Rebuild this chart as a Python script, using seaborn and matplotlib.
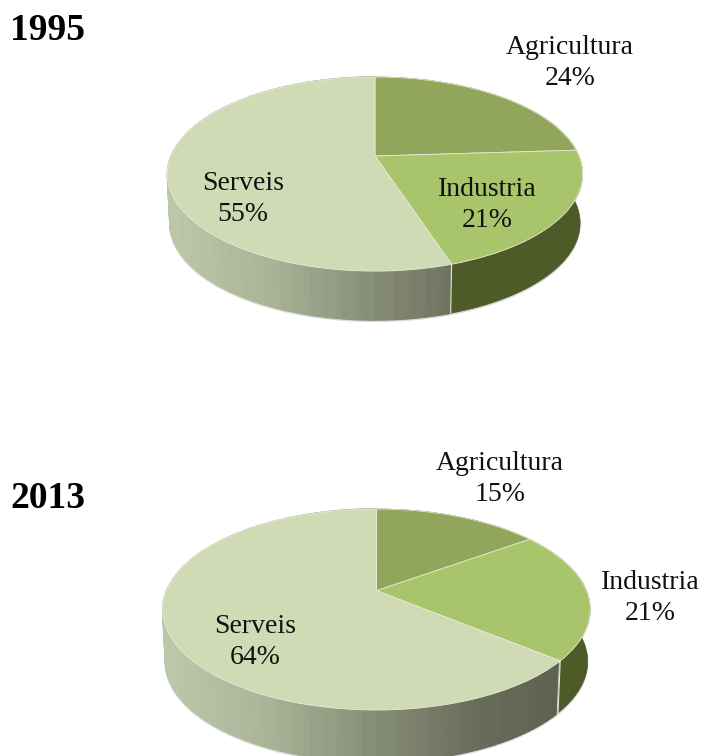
import numpy as np
import matplotlib
matplotlib.use('Agg')
import matplotlib.pyplot as plt
from matplotlib.transforms import Transform
import seaborn as sns

years = ['1995', '2013']
categories = ['Agricultura', 'Industria', 'Serveis']
shares_1995 = [24, 21, 55]
shares_2013 = [15, 21, 64]

top_colors = ['#91a55b', '#a9c56b', '#d0dab5']
dark_wall = '#4e5a28'
edge_color = '#e6eAd6'
wall_ramp = sns.blend_palette(['#bcc7aa', '#a8b296', '#868d75', '#686c5a', '#5c5f4d'], n_colors=40)


class Tilt(Transform):
    # lays the unit pie on its side, with some perspective, in pixel coords
    input_dims = 2
    output_dims = 2

    def __init__(self, cx, cy, a, b, k):
        super().__init__()
        self.cx, self.cy, self.a, self.b, self.k = cx, cy, a, b, k

    def transform_non_affine(self, values):
        values = np.asarray(values)
        w = 1 + self.k * values[:, 1]
        return np.column_stack([self.cx + self.a * values[:, 0] / w,
                                self.cy - self.b * values[:, 1] / w])


def unit_circle(theta):
    t = np.radians(theta)
    return np.column_stack([np.cos(t), np.sin(t)])


def draw_pie(ax, shares, cx, cy, a, b, k, depth):
    top = Tilt(cx, cy, a, b, k)
    low = Tilt(cx, cy + depth, a * 0.988, b, k)

    # soft edge under the disc
    shadow = Tilt(cx, cy + depth + 2, a * 0.99, b, k).transform(unit_circle(np.arange(0, 361, 2)))
    ax.fill(shadow[:, 0], shadow[:, 1], color='#dcdcdc', lw=0)

    # side wall: gradient strips for Serveis, one flat piece for the rest
    ends = 90 - np.cumsum(shares) * 3.6
    serveis_start = ends[1]
    grid = np.arange(-270, serveis_start + 0.01, 1.5)
    for t0, t1 in zip(grid[:-1], grid[1:]):
        p = top.transform(unit_circle(np.array([t0, t1])))
        q = low.transform(unit_circle(np.array([t1, t0])))
        xs = np.r_[p[:, 0], q[:, 0]]
        ys = np.r_[p[:, 1], q[:, 1]]
        frac = (xs.mean() - (cx - a)) / (2 * a)
        color = wall_ramp[int(np.clip(frac, 0, 0.999) * len(wall_ramp))]
        ax.fill(xs, ys, color=color, lw=1.0)

    arc = np.linspace(serveis_start, 90, 120)
    p = top.transform(unit_circle(arc))
    q = low.transform(unit_circle(arc[::-1]))
    ax.fill(np.r_[p[:, 0], q[:, 0]], np.r_[p[:, 1], q[:, 1]], color=dark_wall, lw=0.5)

    p = top.transform(unit_circle(np.array([serveis_start])))
    q = low.transform(unit_circle(np.array([serveis_start])))
    ax.plot([p[0, 0], q[0, 0]], [p[0, 1], q[0, 1]], color=edge_color, lw=0.8)

    wedges, _ = ax.pie(shares, colors=top_colors, startangle=90, counterclock=False,
                       wedgeprops={'edgecolor': edge_color, 'linewidth': 0.6})
    for wedge in wedges:
        wedge.set_transform(top + ax.transData)


sns.set_style('white')
plt.rcParams['font.family'] = ['Liberation Serif', 'DejaVu Serif']

fig = plt.figure(figsize=(7.04, 7.56), dpi=100)
ax = fig.add_axes([0, 0, 1, 1])

draw_pie(ax, shares_1995, 375, 156, 204, 93.7, 0.186, 49)
draw_pie(ax, shares_2013, 376.5, 590.7, 210, 97, 0.187, 52)

ax.set_aspect('auto')
ax.set_xlim(0, 704)
ax.set_ylim(756, 0)
ax.axis('off')

label_spots_1995 = [(570, 63), (487, 205), (243, 199)]
label_spots_2013 = [(500, 479), (650, 598), (255, 642)]
for shares, spots in [(shares_1995, label_spots_1995), (shares_2013, label_spots_2013)]:
    for name, share, (x, y) in zip(categories, shares, spots):
        ax.text(x, y, f'{name}\n{share}%', ha='center', va='center', fontsize=20,
                color='#111111', linespacing=1.3)

ax.text(10, 31, years[0], ha='left', va='center', fontsize=27, fontweight='bold', color='black')
ax.text(10, 498, years[1], ha='left', va='center', fontsize=27, fontweight='bold', color='black')

fig.savefig('out.png', dpi=100)
